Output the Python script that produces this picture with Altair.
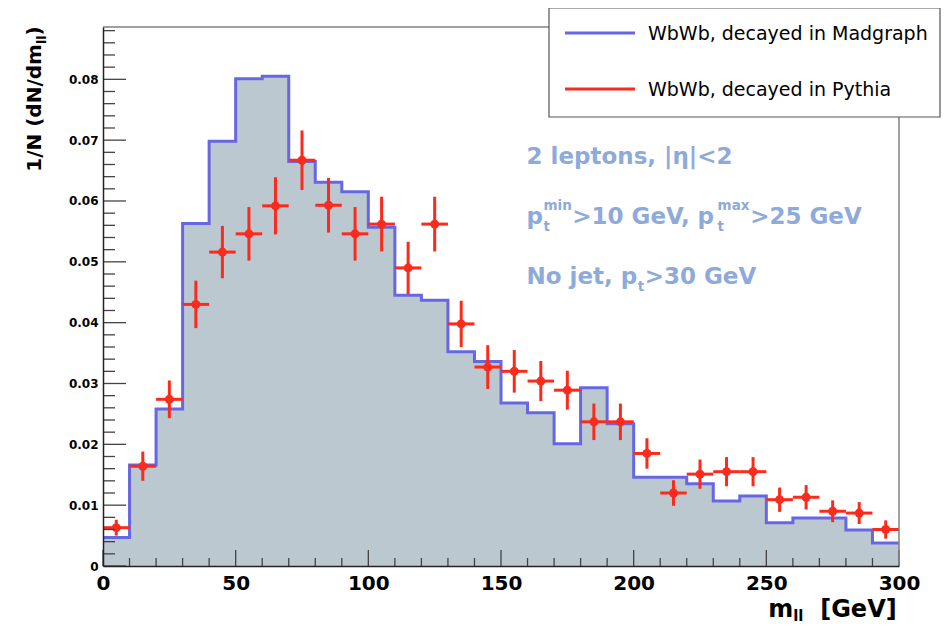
import altair as alt
import pandas as pd

# ---------------- data ----------------
series_names = ["WbWb, decayed in Madgraph", "WbWb, decayed in Pythia"]
bin_lo = [0, 10, 20, 30, 40, 50, 60, 70, 80, 90, 100, 110, 120, 130, 140,
          150, 160, 170, 180, 190, 200, 210, 220, 230, 240, 250, 260, 270, 280, 290]
bin_width = 10
madgraph = [0.0047, 0.0166, 0.0258, 0.0563, 0.0698, 0.0801, 0.0805, 0.0665, 0.0631, 0.0615,
            0.0557, 0.0445, 0.0437, 0.0352, 0.0336, 0.0268, 0.0252, 0.0201, 0.0293, 0.0234,
            0.0146, 0.0146, 0.0135, 0.0107, 0.0115, 0.0071, 0.0079, 0.0079, 0.0059, 0.0038]
pythia = [0.0063, 0.0164, 0.0274, 0.0430, 0.0516, 0.0546, 0.0592, 0.0667, 0.0593, 0.0546,
          0.0562, 0.0490, 0.0562, 0.0398, 0.0327, 0.0320, 0.0304, 0.0289, 0.0237, 0.0237,
          0.0185, 0.0120, 0.0151, 0.0155, 0.0155, 0.0109, 0.0113, 0.0090, 0.0087, 0.0060]
pythia_err = [0.0013, 0.0024, 0.0031, 0.0039, 0.0043, 0.0044, 0.0047, 0.0049, 0.0045, 0.0044,
              0.0045, 0.0043, 0.0045, 0.0038, 0.0036, 0.0035, 0.0033, 0.0032, 0.0030, 0.0030,
              0.0025, 0.0021, 0.0024, 0.0024, 0.0024, 0.0020, 0.0020, 0.0018, 0.0018, 0.0015]

x_major = [0, 50, 100, 150, 200, 250, 300]
x_minor = [v for v in range(10, 300, 10) if v % 50]
y_major = [0, 0.01, 0.02, 0.03, 0.04, 0.05, 0.06, 0.07, 0.08]
y_minor = [round(i * 0.002, 3) for i in range(1, 45) if i % 5]

y_title = [("1/N (dN/dm", "n"), ("ll", "sub"), (")", "n")]
x_title = [("m", "n"), ("ll", "sub"), ("[GeV]", "n")]
note_lines = [
    [("2 leptons, |η|<2", "n")],
    [("p", "n"), ("t", "sub"), ("min", "sup"), (">10 GeV, p", "n"), ("t", "sub"), ("max", "sup"), (">25 GeV", "n")],
    [("No jet, p", "n"), ("t", "sub"), (">30 GeV", "n")],
]

# ---------------- style ----------------
BLUE = "#6767e4"
RED = "#fa2b1c"
FILL = "#bcc8d0"
NOTE = "#8eaadb"
FONT = "DejaVu Sans"
WP, HP = 796, 539
YMAX = 0.0886

# DejaVu Sans Bold advance widths (em)
WB = {' ': 0.348, ',': 0.380, '.': 0.380, '/': 0.365, '<': 0.838, '>': 0.838,
      '(': 0.457, ')': 0.457, '[': 0.457, ']': 0.457, '|': 0.366,
      'G': 0.821, 'M': 0.995, 'N': 0.837, 'V': 0.774, 'W': 1.103,
      'a': 0.675, 'b': 0.716, 'c': 0.593, 'd': 0.716, 'e': 0.678, 'g': 0.716,
      'h': 0.712, 'i': 0.343, 'j': 0.343, 'l': 0.343, 'm': 1.042, 'n': 0.712,
      'o': 0.687, 'p': 0.716, 'r': 0.493, 's': 0.595, 't': 0.478, 'x': 0.663,
      'y': 0.652, 'η': 0.712}
for _d in "0123456789":
    WB[_d] = 0.696


def tw(s, size):
    return sum(WB.get(c, 0.65) for c in s) * size


X = alt.Scale(domain=[0, 300], nice=False, zero=False)
Y = alt.Scale(domain=[0, YMAX], nice=False, zero=False)
one = pd.DataFrame({"k": [0]})

hist_df = pd.DataFrame({"x": bin_lo + [bin_lo[-1] + bin_width],
                        "y": madgraph + [madgraph[-1]]})
pts_df = pd.DataFrame({
    "lo": bin_lo,
    "hi": [b + bin_width for b in bin_lo],
    "c": [b + bin_width / 2 for b in bin_lo],
    "y": pythia,
    "ylo": [v - e for v, e in zip(pythia, pythia_err)],
    "yhi": [v + e for v, e in zip(pythia, pythia_err)],
})

x_axis = alt.Axis(values=x_major, format="d", ticks=False, grid=False, title=None,
                  labelFont=FONT, labelFontWeight="bold", labelFontSize=20,
                  labelColor="black", labelPadding=7, labelFlush=False,
                  domainColor="#222222", domainWidth=1.5, zindex=1)
y_axis = alt.Axis(values=y_major, ticks=False, grid=False, title=None,
                  labelExpr="datum.value == 0 ? '0' : format(datum.value, '.2f')",
                  labelFont=FONT, labelFontWeight="bold", labelFontSize=12,
                  labelColor="black", labelPadding=5, labelFlush=False,
                  domainColor="#222222", domainWidth=1.5, zindex=1)


def XE(f):
    return alt.X(f, scale=X, axis=x_axis)


def YE(f):
    return alt.Y(f, scale=Y, axis=y_axis)


layers = []
layers.append(alt.Chart(hist_df).mark_area(interpolate="step-after", color=FILL, opacity=1).encode(
    x=XE("x:Q"), y=YE("y:Q")))
layers.append(alt.Chart(hist_df).mark_line(interpolate="step-after", color=BLUE, strokeWidth=3).encode(
    x=XE("x:Q"), y=YE("y:Q")))
layers.append(alt.Chart(pts_df).mark_rule(color=RED, strokeWidth=3).encode(
    x=XE("lo:Q"), x2="hi:Q", y=YE("y:Q")))
layers.append(alt.Chart(pts_df).mark_rule(color=RED, strokeWidth=3).encode(
    x=XE("c:Q"), y=YE("ylo:Q"), y2="yhi:Q"))
layers.append(alt.Chart(pts_df).mark_circle(color=RED, size=80, opacity=1).encode(
    x=XE("c:Q"), y=YE("y:Q")))

# inward tick marks
TC = "#444444"
layers.append(alt.Chart(pd.DataFrame({"t": y_major})).mark_rule(color=TC, strokeWidth=1.3).encode(
    y=YE("t:Q"), x=alt.value(0), x2=alt.value(23)))
layers.append(alt.Chart(pd.DataFrame({"t": y_minor})).mark_rule(color=TC, strokeWidth=1.3).encode(
    y=YE("t:Q"), x=alt.value(0), x2=alt.value(12)))
layers.append(alt.Chart(pd.DataFrame({"t": x_major})).mark_rule(color=TC, strokeWidth=1.3).encode(
    x=XE("t:Q"), y=alt.value(HP), y2=alt.value(HP - 16)))
layers.append(alt.Chart(pd.DataFrame({"t": x_minor})).mark_rule(color=TC, strokeWidth=1.3).encode(
    x=XE("t:Q"), y=alt.value(HP), y2=alt.value(HP - 8)))

# frame (top/right gray)
layers.append(alt.Chart(one).mark_rule(color="#808080", strokeWidth=1.5).encode(
    x=alt.value(0), x2=alt.value(WP), y=alt.value(0)))
layers.append(alt.Chart(one).mark_rule(color="#808080", strokeWidth=1.5).encode(
    x=alt.value(WP), y=alt.value(0), y2=alt.value(HP)))


def seg(text, x, y, size, color="black", weight="bold", angle=0, align="left"):
    kw = dict(font=FONT, fontSize=size, fontWeight=weight, color=color,
              align=align, baseline="alphabetic")
    if angle:
        kw["angle"] = angle
    return alt.Chart(one).mark_text(**kw).encode(
        x=alt.value(x), y=alt.value(y), text=alt.value(text))


# annotation text block
NF, NS = 23, 13.5
nx0 = 423.5
for i, line in enumerate(note_lines):
    by = 137.3 + 60 * i
    x = nx0
    pending = 0.0
    for text, kind in line:
        if kind == "n":
            x += pending
            pending = 0.0
            layers.append(seg(text, x, by, NF, NOTE))
            x += tw(text, NF)
        elif kind == "sub":
            layers.append(seg(text, x + 0.5, by + 6.5, NS, NOTE))
            pending = max(pending, tw(text, NS) + 1)
        else:
            layers.append(seg(text, x + 0.5, by - 14, NS, NOTE))
            pending = max(pending, tw(text, NS) + 1)

# y-axis title (rotated)
TF, TS = 20, 12.5
ty = 144.7
tx = -62
for text, kind in y_title:
    if kind == "n":
        layers.append(seg(text, tx, ty, TF, angle=270))
        ty -= tw(text, TF)
    else:
        layers.append(seg(text, tx + 5, ty, TS, angle=270))
        ty -= tw(text, TS)

# x-axis title
XF, XS = 24, 15
xr = 793.7
bx = 590
gev_start = xr - tw(x_title[2][0], XF)
ll_start = gev_start - tw("  ", XF) - tw(x_title[1][0], XS)
m_start = ll_start - tw(x_title[0][0], XF)
layers.append(seg(x_title[0][0], m_start, bx, XF))
layers.append(seg(x_title[1][0], ll_start, bx + 4, XS))
layers.append(seg(x_title[2][0], xr, bx, XF, align="right"))

# legend box
LX0, LX1, LY0, LY1 = 446, 837, -19, 90
layers.append(alt.Chart(one).mark_rect(fill="white", stroke="#555555", strokeWidth=1.2).encode(
    x=alt.value(LX0), x2=alt.value(LX1), y=alt.value(LY0), y2=alt.value(LY1)))
for j, (name, col) in enumerate(zip(series_names, [BLUE, RED])):
    yy = 6 + 56 * j
    layers.append(alt.Chart(one).mark_rule(color=col, strokeWidth=3).encode(
        x=alt.value(462), x2=alt.value(532), y=alt.value(yy)))
    layers.append(alt.Chart(one).mark_text(font=FONT, fontSize=19, color="black", align="left",
                                           baseline="middle").encode(
        x=alt.value(545), y=alt.value(yy + 1), text=alt.value(name)))

chart = alt.layer(*layers).properties(
    width=WP, height=HP,
    padding={"left": 95, "top": 19, "right": 42, "bottom": 59},
    autosize=alt.AutoSizeParams(type="none"),
).configure_view(stroke=None)

chart.save("out.html", embed_options={"renderer": "svg", "actions": False})
